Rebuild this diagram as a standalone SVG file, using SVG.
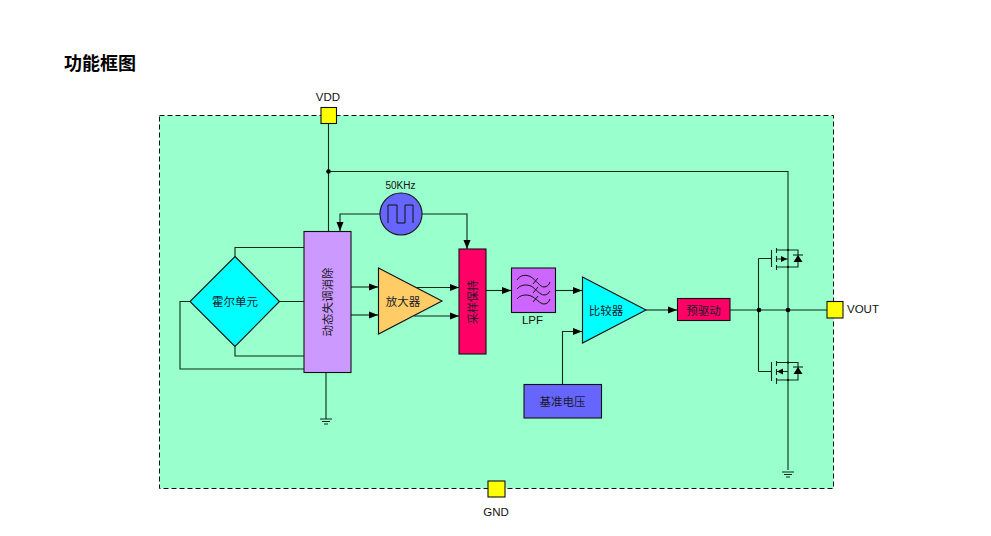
<svg xmlns="http://www.w3.org/2000/svg" width="991" height="536" viewBox="0 0 991 536">
<style>
.w{fill:none;stroke:#0a2a1c;stroke-width:1.1}
.b{stroke:#111;stroke-width:1.1}
.t{font-family:"Noto Sans CJK SC","Liberation Sans",sans-serif;font-size:11.5px;fill:#1a1a2a;text-anchor:middle;dominant-baseline:central}
.l{font-family:"Liberation Sans",Arial,sans-serif;font-size:11.5px;fill:#111;text-anchor:middle}
.d{fill:#000}
</style>
<defs>
<marker id="a" markerUnits="userSpaceOnUse" markerWidth="10" markerHeight="8" refX="9" refY="4" orient="auto"><path d="M0 0.5L9 4L0 7.5Z" fill="#000"/></marker>
<path id="g" d="M-6 0H6M-4 2.5H4M-2 5H2" fill="none" stroke="#0a2a1c"/>
</defs>
<rect width="991" height="536" fill="#fff"/>
<text x="64" y="70" font-family="'Noto Sans CJK SC',sans-serif" font-size="18" font-weight="700" fill="#000">功能框图</text>
<rect id="boundary" x="159.500" y="115.500" width="674" height="373" fill="#9fc" stroke="#111" stroke-dasharray="5 3"/>
<g id="connectors">
<path class="w" d="M328.500 123V231M328.500 171.500H788V470"/>
<path class="w" d="M235 256.500V247.500H304M279.500 301.500H304M235 346.500V356H304M190 301.500H180V369H304"/>
<path class="w" d="M326 372V419"/>
<use href="#g" x="326" y="419"/>
<use href="#g" x="788" y="472"/>
<path class="w" d="M380 214H340V231" marker-end="url(#a)"/>
<path class="w" d="M422 214H467V249" marker-end="url(#a)"/>
<path class="w" d="M351 287H378" marker-end="url(#a)"/>
<path class="w" d="M351 315H378" marker-end="url(#a)"/>
<path class="w" d="M417 287.500H459" marker-end="url(#a)"/>
<path class="w" d="M414 316H459" marker-end="url(#a)"/>
<path class="w" d="M486 290.500H511" marker-end="url(#a)"/>
<path class="w" d="M555 290.500H582" marker-end="url(#a)"/>
<path class="w" d="M562.500 384.500V331.500H582" marker-end="url(#a)"/>
<path class="w" d="M646 310H677" marker-end="url(#a)"/>
<path class="w" d="M730 310H827M758.500 258.500V371.500"/>
<circle class="d" cx="328.500" cy="171.500" r="2.300"/>
<circle class="d" cx="759" cy="310" r="2.300"/>
<circle class="d" cx="788" cy="310" r="2.300"/>
</g>
<g id="q-high">
<path class="w" d="M758.500 258.500H771M771.500 250V267M776.500 248V253M776.500 256V262M776.500 265V270M776.500 250H798V267H776.500M776.500 259H788"/>
<path d="M787 259L781 256V262Z" class="d"/>
<path d="M798 255L793.500 262H802.500Z" class="d"/><path d="M793 255H803" class="w"/>
<circle class="d" cx="788" cy="250" r="1"/><circle class="d" cx="788" cy="267" r="1"/>
</g>
<g id="q-low">
<path class="w" d="M758.500 371.500H771M771.500 362V381M776.500 361V366M776.500 369V375M776.500 378V384M776.500 362.500H798V380H776.500M776.500 371.500H788"/>
<path d="M777 371.500L783 368.500V374.500Z" class="d"/>
<path d="M798 367L793.500 374H802.500Z" class="d"/><path d="M793 367H803" class="w"/>
<circle class="d" cx="788" cy="362.500" r="1"/><circle class="d" cx="788" cy="380" r="1"/>
</g>
<g id="hall"><path class="b" d="M235 256.500L279.500 301.500L235 346.500L190 301.500Z" fill="#0ff"/><text class="t" x="235" y="301">霍尔单元</text></g>
<g id="offset"><rect class="b" x="304" y="231.500" width="47" height="141" fill="#c9f"/><text class="t" transform="translate(327 302) rotate(-90)">动态失调消除</text></g>
<g id="clock"><circle class="b" cx="401" cy="214" r="21" fill="#66f"/><path d="M388 223V205H397V223H405V205H413V223" fill="none" stroke="#111"/><text class="l" x="400.500" y="188.500" style="font-size:10px">50KHz</text></g>
<g id="amp"><path class="b" d="M378.500 268L442 301L378.500 334Z" fill="#fc6"/><text class="t" x="403" y="301">放大器</text></g>
<g id="sh"><rect class="b" x="459" y="249" width="27" height="105" fill="#f06"/><text class="t" transform="translate(472 302) rotate(-90)" style="font-size:11px">采样保持</text></g>
<g id="lpf"><rect class="b" x="511.500" y="268" width="44" height="44.500" fill="#c6f"/><path d="M517 280C520 275 526 274 531 277C536 280 540 287 544 287C547 287 549 285 550 282M517 289C520 285 526 284 531 286C536 289 540 295 544 295C547 295 549 293 550 291M517 299C520 295 526 294 531 296C536 298 540 304 544 304C547 304 549 302 550 299M533 284L538 278M533 293L538 287M533 302L538 296" fill="none" stroke="#111"/><text class="l" x="532.500" y="324">LPF</text></g>
<g id="cmp"><path class="b" d="M582.500 277L646 310L582.500 343Z" fill="#0ff"/><text class="t" x="606" y="310">比较器</text></g>
<g id="ref"><rect class="b" x="524" y="384.500" width="77.500" height="33.500" fill="#66f"/><text class="t" x="562.500" y="401">基准电压</text></g>
<g id="drv"><rect class="b" x="677.500" y="298.500" width="52.500" height="22" fill="#f06"/><text class="t" x="703.500" y="310">预驱动</text></g>
<g id="vdd"><rect class="b" x="321" y="107.500" width="15.500" height="16" fill="#ff0"/><text class="l" x="328" y="100.500">VDD</text></g>
<g id="gnd"><rect class="b" x="488" y="481" width="17" height="16" fill="#ff0"/><text class="l" x="496" y="516">GND</text></g>
<g id="vout"><rect class="b" x="827" y="301.500" width="16" height="16.500" fill="#ff0"/><text class="l" x="847" y="313" style="text-anchor:start">VOUT</text></g>
</svg>
